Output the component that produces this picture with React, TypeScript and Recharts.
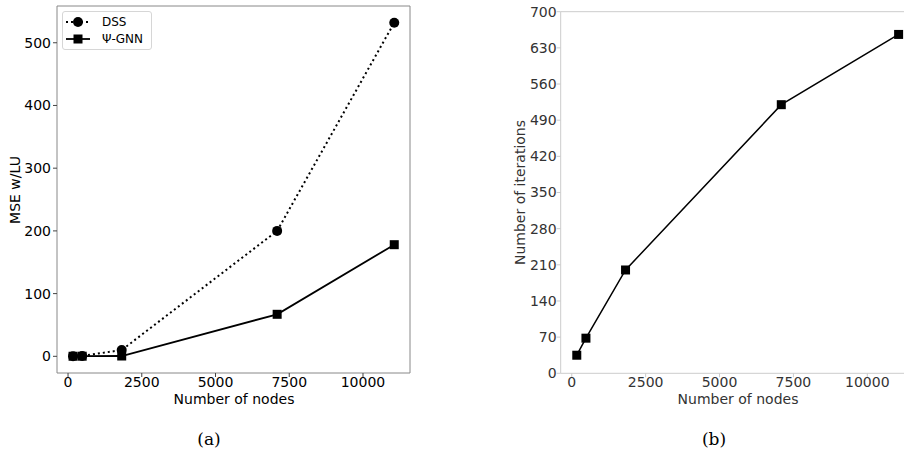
import React from 'react';
import { LineChart, Line, XAxis, YAxis, Legend, ReferenceLine } from 'recharts';

const nodes = [170, 480, 1820, 7090, 11060];
const dssMse = [0.3, 0.6, 10, 200, 532];
const gnnMse = [0.1, 0.2, 0.5, 67, 178];
const gnnIterations = [35, 68, 200, 520, 656];

const nodeTicks = [0, 2500, 5000, 7500, 10000];
const mseTicks = [0, 100, 200, 300, 400, 500];
const iterationTicks = [0, 70, 140, 210, 280, 350, 420, 490, 560, 630, 700];

const FONT = '"DejaVu Sans", sans-serif';
const xDomain = [-374, 11594];
const mseDomain = [-26.6, 558.6];
const iterDomain = [0, 700];

const mseData = nodes.map((n, i) => ({ nodes: n, dss: dssMse[i], gnn: gnnMse[i] }));
const iterData = nodes.map((n, i) => ({ nodes: n, iterations: gnnIterations[i] }));

const squareDot = (size: number) => (props: any) => {
  const { cx, cy, index } = props;
  if (cx == null || cy == null) return <g key={`sq-${index}`} />;
  return <rect key={`sq-${index}`} x={cx - size / 2} y={cy - size / 2} width={size} height={size} fill="#000" />;
};

const circleDot = (r: number) => (props: any) => {
  const { cx, cy, index } = props;
  if (cx == null || cy == null) return <g key={`c-${index}`} />;
  return <circle key={`c-${index}`} cx={cx} cy={cy} r={r} fill="#000" />;
};

const axisTitle = (text: string, x: number, y: number, angle: number, fill: string) => () => (
  <text
    x={x}
    y={y}
    transform={angle ? `rotate(${angle} ${x} ${y})` : undefined}
    textAnchor="middle"
    dominantBaseline="central"
    fontSize={14}
    fontFamily={FONT}
    fill={fill}
  >
    {text}
  </text>
);

const legendMarkers: Record<string, { dash?: string; marker: 'circle' | 'square' }> = {
  dss: { dash: '2 3', marker: 'circle' },
  gnn: { marker: 'square' },
};

const renderLegend = (props: any) => {
  const { payload } = props;
  return (
    <div
      style={{
        border: '1px solid #d6d6d6',
        borderRadius: 3,
        background: '#fff',
        padding: '2px 8px 2px 2px',
        fontFamily: FONT,
        fontSize: 12,
      }}
    >
      {(payload || []).map((entry: any) => {
        const m = legendMarkers[entry.dataKey];
        return (
          <div key={entry.dataKey} style={{ display: 'flex', alignItems: 'center', height: 16.5 }}>
            <svg width={26} height={14} style={{ marginRight: 11 }}>
              <line x1={1} x2={25} y1={7} y2={7} stroke="#000" strokeWidth={m.dash ? 2 : 1.8} strokeDasharray={m.dash} />
              {m.marker === 'circle' ? (
                <circle cx={13} cy={7} r={5} fill="#000" />
              ) : (
                <rect x={8.5} y={2.5} width={9} height={9} fill="#000" />
              )}
            </svg>
            <span style={{ color: '#000' }}>{entry.value}</span>
          </div>
        );
      })}
    </div>
  );
};

const caption: React.CSSProperties = {
  position: 'absolute',
  top: 429,
  fontFamily: '"DejaVu Serif", "Liberation Serif", serif',
  fontSize: 17,
  color: '#000',
  transform: 'translateX(-50%)',
};

export default function App() {
  return (
    <div style={{ position: 'absolute', left: 0, top: 0, width: 904, height: 452, overflow: 'hidden', background: '#fff' }}>
      <div style={{ position: 'absolute', left: 0, top: 0 }}>
        <LineChart width={460} height={452} data={mseData} margin={{ top: 6, right: 50, bottom: 49, left: 0 }}>
          <XAxis
            type="number"
            dataKey="nodes"
            domain={xDomain}
            ticks={nodeTicks}
            height={30}
            stroke="#888"
            tickSize={4}
            tickMargin={0}
            tick={{ fontSize: 14, fill: '#000', fontFamily: FONT }}
            tickLine={{ stroke: '#444' }}
            label={axisTitle('Number of nodes', 234, 399, 0, '#000')}
          />
          <YAxis
            type="number"
            domain={mseDomain}
            ticks={mseTicks}
            width={57}
            stroke="#888"
            tickSize={4}
            tickMargin={2}
            tick={{ fontSize: 14, fill: '#000', fontFamily: FONT }}
            tickLine={{ stroke: '#444' }}
            label={axisTitle('MSE w/LU', 15, 190, -90, '#000')}
          />
          {/* top and right spines */}
          <ReferenceLine y={mseDomain[1]} stroke="#888" ifOverflow="visible" />
          <ReferenceLine x={xDomain[1]} stroke="#888" ifOverflow="visible" />
          <Legend
            content={renderLegend}
            layout="horizontal"
            verticalAlign="middle"
            align="center"
            wrapperStyle={{ position: 'absolute', left: 62, top: 11, width: 'auto', height: 'auto' }}
          />
          <Line
            dataKey="dss"
            name="DSS"
            stroke="#000"
            strokeWidth={2}
            strokeDasharray="2 3"
            dot={circleDot(5)}
            activeDot={false}
            isAnimationActive={false}
          />
          <Line
            dataKey="gnn"
            name="Ψ-GNN"
            stroke="#000"
            strokeWidth={1.8}
            dot={squareDot(9)}
            activeDot={false}
            isAnimationActive={false}
          />
        </LineChart>
      </div>
      <div style={{ position: 'absolute', left: 460, top: 0 }}>
        <LineChart width={460} height={452} data={iterData} margin={{ top: 11.7, right: 5.6, bottom: 48.7, left: 0 }}>
          <XAxis
            type="number"
            dataKey="nodes"
            domain={xDomain}
            ticks={nodeTicks}
            height={30}
            stroke="#ccc"
            tickSize={4}
            tickMargin={0}
            tick={{ fontSize: 14, fill: '#333', fontFamily: FONT }}
            tickLine={{ stroke: '#ccc' }}
            label={axisTitle('Number of nodes', 278, 399, 0, '#333')}
          />
          <YAxis
            type="number"
            domain={iterDomain}
            ticks={iterationTicks}
            width={100.7}
            stroke="#ccc"
            tickSize={4}
            tickMargin={0}
            tick={{ fontSize: 14, fill: '#333', fontFamily: FONT }}
            tickLine={{ stroke: '#ccc' }}
            label={axisTitle('Number of iterations', 59.5, 192.5, -90, '#333')}
          />
          {/* top spine */}
          <ReferenceLine y={iterDomain[1]} stroke="#ccc" ifOverflow="visible" />
          <Line
            dataKey="iterations"
            stroke="#000"
            strokeWidth={1.5}
            dot={squareDot(9)}
            activeDot={false}
            isAnimationActive={false}
          />
        </LineChart>
      </div>
      <div style={{ ...caption, left: 209 }}>(a)</div>
      <div style={{ ...caption, left: 714 }}>(b)</div>
    </div>
  );
}
